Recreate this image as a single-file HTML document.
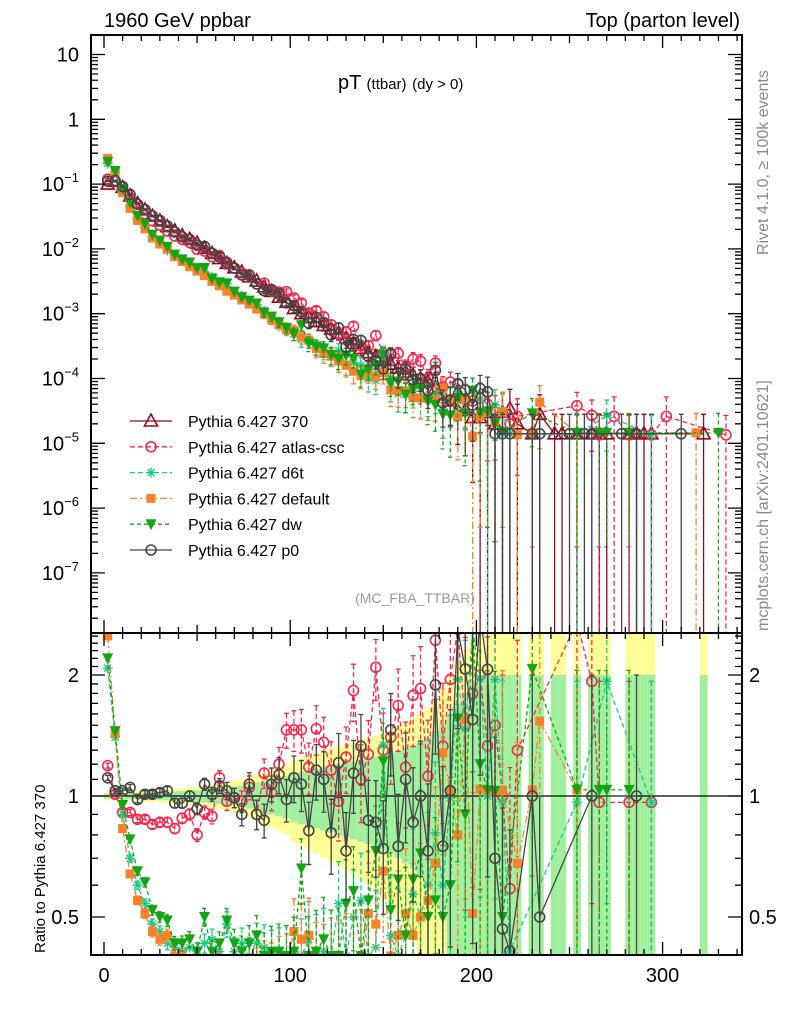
<!DOCTYPE html>
<html><head><meta charset="utf-8"><style>
html,body{margin:0;padding:0;background:#fff;width:786px;height:1024px;overflow:hidden;}
svg{display:block;font-family:"Liberation Sans",sans-serif;}
</style></head><body>
<svg id="chart" width="786" height="1024" viewBox="0 0 786 1024" xmlns="http://www.w3.org/2000/svg">
<defs>
<clipPath id="clipMain"><rect x="91" y="35" width="651" height="598"/></clipPath>
<clipPath id="clipRatio"><rect x="91" y="633" width="651" height="322"/></clipPath>
</defs>
<rect width="786" height="1024" fill="#fff"/>
<g id="ratioBands" clip-path="url(#clipRatio)"></g>
<g id="mainMarks" clip-path="url(#clipMain)"></g>
<g id="ratioMarks" clip-path="url(#clipRatio)"></g>
<g id="axes"></g>
<text x="104" y="27" font-size="20">1960 GeV ppbar</text>
<text x="740" y="27" font-size="20" text-anchor="end">Top (parton level)</text>
<text x="338" y="89" font-size="20">pT <tspan font-size="15">(ttbar)</tspan> <tspan font-size="15">(dy &gt; 0)</tspan></text>
<text x="415" y="603" font-size="14" fill="#999" text-anchor="middle">(MC_FBA_TTBAR)</text>
<text transform="translate(768,255) rotate(-90)" font-size="16" fill="#888">Rivet 4.1.0, ≥ 100k events</text>
<text transform="translate(768,631) rotate(-90)" font-size="16" fill="#888">mcplots.cern.ch [arXiv:2401.10621]</text>
<text transform="translate(45,953) rotate(-90)" font-size="15">Ratio to Pythia 6.427 370</text>
<g id="legend"></g>
</svg>
<script>
const binCenters=[2,6,10,14,18,22,26,30,34,38,42,46,50,54,58,62,66,70,74,78,82,86,90,94,98,102,106,110,114,118,122,126,130,134,138,142,146,150,154,158,162,166,170,174,178,182,186,190,194,198,202,206,210,214,218,222,226,230,234,238,242,246,250,254,258,262,266,270,274,278,282,286,290,294,298,302,306,310,314,318,322,326,330,334];
const ref370=[0.100,0.110,0.089,0.066,0.050,0.040,0.032,0.027,0.022,0.019,0.016,0.014,0.0123,0.0102,0.0085,0.0071,0.0060,0.0051,0.0044,0.0037,0.0032,0.0026,0.0022,0.0018,0.0015,0.0012,0.0010,0.00087,0.00076,0.00066,0.00058,0.00050,0.00042,0.00035,0.00029,0.00025,0.00022,0.00019,0.000166,0.000145,0.000126,0.000112,0.0001,0.000089,0.000071,0.000056,0.000045,0.000032,0.000032,0.000025,
2.5e-5,3e-5,2e-5,3e-5,3.4e-5,2e-5,0,1.4e-5,2.8e-5,0,1.4e-5,1.4e-5,0,1.4e-5,0,1.4e-5,1.4e-5,1.4e-5,0,0,1.4e-5,1.4e-5,1.4e-5,1.4e-5,0,0,0,0,0,0,1.4e-5,0,0,0];
const relErr=[0.015,0.015,0.016,0.017,0.018,0.02,0.021,0.022,0.024,0.026,0.028,0.03,0.033,0.036,0.04,0.044,0.05,0.055,0.06,0.07,0.08,0.09,0.1,0.11,0.12,0.14,0.15,0.16,0.17,0.18,0.19,0.2,0.21,0.22,0.23,0.24,0.25,0.27,0.28,0.3,0.32,0.34,0.37,0.4,0.45,0.5,0.6,0.7,0.8,0.9,
1,1,1,1,1,1,1,1,1,1,1,1,1,1,1,1,1,1,1,1,1,1,1,1,1,1,1,1,1,1,1,1,1,1];
const ratioAtlas=[1.19,1.01,0.91,0.91,0.875,0.875,0.85,0.86,0.86,0.83,0.88,0.90,0.80,0.91,0.89,1.11,0.97,0.99,0.97,1.05,0.90,1.14,1.02,1.20,1.46,1.46,1.46,1.18,1.47,1.36,1.16,0.97,1.25,1.83,1.10,1.27,2.09,1.3,1.4,1.68,1.18,1.78,1.85,1.12,2.44,1.33,1.95,2.6,1.5,1.8];
const ratioD6t=[2.08,1.40,0.90,0.70,0.60,0.54,0.48,0.46,0.43,0.42,0.41,0.42,0.40,0.43,0.44,0.41,0.48,0.41,0.43,0.40,0.43,0.42,0.40,0.40,0.40,0.41,0.40,0.44,0.40,0.41,0.40,0.54,0.40,0.50,0.55,0.40,0.42,1.34,0.45,0.40,0.45,0.57,0.5,0.6,0.81,0.60,0.99,1.95,1.47,2.6];
const ratioDefault=[2.5,1.43,0.83,0.64,0.55,0.51,0.46,0.44,0.45,0.40,0.40,0.38,0.37,0.38,0.37,0.38,0.37,0.38,0.37,0.38,0.37,0.38,0.37,0.38,0.38,0.46,0.44,0.45,0.38,0.37,0.38,0.37,0.38,0.37,0.38,0.51,0.48,0.65,0.4,0.45,0.51,0.45,0.5,0.55,0.68,1.28,1.03,0.8,1.55,0.51];
const ratioDw=[2.2,1.45,0.95,0.78,0.65,0.61,0.52,0.50,0.49,0.43,0.43,0.44,0.41,0.50,0.41,0.43,0.49,0.43,0.41,0.43,0.45,0.40,0.41,0.41,0.40,0.41,0.66,0.40,0.41,0.44,0.40,0.40,0.54,0.58,0.40,0.55,0.73,1.22,0.52,0.62,0.45,0.62,0.72,0.5,0.55,0.5,0.6,1.56,0.9,2.6];
const ratioP0=[1.11,1.03,1.03,1.05,0.98,1.01,1.01,1.02,1.03,0.96,0.96,1.0,0.93,1.07,1.01,1.06,1.03,0.99,0.90,1.07,0.90,0.87,1.07,1.13,0.98,1.11,1.07,0.82,1.16,1.10,0.81,1.21,0.73,1.14,1.33,0.87,0.86,0.74,1.46,0.75,1.10,0.86,1.0,0.73,1.89,0.75,1.03,2.6,2.07,1.55];
const tailAtlas=[5,4,3,3,2,2.6,0,0,0,0,0,0,0,3.8,0,2.7,1.35,0,2.6,0,1.35,0,0,1.35,0,2.6,0,0,0,0,0,0,0,1.35];
const tailD6t=[4.9,3,3.9,2.9,1.4,0,0,0,0,0,0,0,0,1.35,0,0,0,2.7,0,0,0,0,0,1.35,0,0,0,0,0,0,0,0,0,0];
const tailDefault=[2.6,3.1,2.06,3.1,0,1.36,0,1.45,4.3,0,0,0,0,1.45,0,0,0,0,0,0,0,0,0,0,0,0,0,0,0,1.45,0,0,0,0];
const tailDw=[3,3.1,2.06,1.5,0,0,0,2.9,0,0,0,0,0,1.45,0,0,1.45,1.45,0,0,1.45,0,0,0,0,0,0,0,0,0,0,0,1.45,0];
const tailP0=[7,6.2,1.4,1.4,1.4,0,0,1.4,1.4,0,0,0,1.4,0,1.4,1.4,0,0,0,1.4,0,1.4,0,0,0,0,0,1.4,0,0,0,0,0,0];
const legendLabels=["Pythia 6.427 370","Pythia 6.427 atlas-csc","Pythia 6.427 d6t","Pythia 6.427 default","Pythia 6.427 dw","Pythia 6.427 p0"];
const mainTickLabels=[["10",1],["1",0],["10","-1"],["10","-2"],["10","-3"],["10","-4"],["10","-5"],["10","-6"],["10","-7"]];
const xTickLabels=[0,100,200,300];
const ratioTickLabels=[0.5,1,2];

const NS="http://www.w3.org/2000/svg";
const X=x=>104+1.862*x;
const YM=v=>119.3-64.8*Math.log10(v);
const YR=r=>796-121*Math.log2(r);
const YMbot=634, YMtop=34, YRbot=956, YRtop=632;
const cl=(v,a,b)=>Math.max(a,Math.min(b,v));
function el(tag,attrs,parent){const e=document.createElementNS(NS,tag);for(const k in attrs)e.setAttribute(k,attrs[k]);parent.appendChild(e);return e;}
function build(ratio,tail){return binCenters.map((c,i)=>i<50?ref370[i]*ratio[i]:tail[i-50]*1e-5);}
const series=[
 {key:"370",vals:ref370,color:"#8b0a1e",dash:"",marker:"tri",isRef:true},
 {key:"atlas-csc",vals:build(ratioAtlas,tailAtlas),color:"#f0284f",dash:"5,3",marker:"circ"},
 {key:"d6t",vals:build(ratioD6t,tailD6t),color:"#1cc98c",dash:"5,3",marker:"star"},
 {key:"default",vals:build(ratioDefault,tailDefault),color:"#f7822a",dash:"7,3,2,3",marker:"sq"},
 {key:"dw",vals:build(ratioDw,tailDw),color:"#14a514",dash:"4,3",marker:"dtri"},
 {key:"p0",vals:build(ratioP0,tailP0),color:"#454545",dash:"",marker:"circ"}
];
function marker(type,x,y,color,parent,name){
 let m;
 if(type==="tri"){m=el("polygon",{points:`${x-6.5},${y+5} ${x+6.5},${y+5} ${x},${y-7}`,fill:"none",stroke:color,"stroke-width":1.6},parent);}
 else if(type==="circ"){m=el("circle",{cx:x,cy:y,r:5,fill:"none",stroke:color,"stroke-width":1.6},parent);}
 else if(type==="sq"){m=el("rect",{x:x-4.5,y:y-4.5,width:9,height:9,fill:color},parent);}
 else if(type==="dtri"){m=el("polygon",{points:`${x-5.5},${y-5} ${x+5.5},${y-5} ${x},${y+6}`,fill:color},parent);}
 else {m=el("path",{d:`M${x-5},${y}H${x+5}M${x},${y-5}V${y+5}M${x-3.5},${y-3.5}L${x+3.5},${y+3.5}M${x-3.5},${y+3.5}L${x+3.5},${y-3.5}`,stroke:color,"stroke-width":1.4,fill:"none"},parent);}
 
 
 return m;
}
const bandG=document.getElementById("ratioBands");
binCenters.forEach((c,i)=>{
 if(!(ref370[i]>0))return;
 const e=relErr[i];
 const x0=X(c-2),w=1.862*4;
 const yl=1.65*e;
 const yt=cl(YR(Math.min(1+yl,3)),YRtop,YRbot), yb=cl(YR(Math.max(1-yl,0.3)),YRtop,YRbot);
 const ry=el("rect",{x:x0,y:yt,width:w+0.3,height:yb-yt,fill:"#ffff99"},bandG);
 
 
 const gt=cl(YR(Math.min(1+e,3)),YRtop,YRbot), gb=cl(YR(Math.max(1-e,0.3)),YRtop,YRbot);
 const rg=el("rect",{x:x0,y:gt,width:w+0.3,height:gb-gt,fill:"#a0f0a0"},bandG);
 
 
});
const mainG=document.getElementById("mainMarks"), ratG=document.getElementById("ratioMarks");
const refLine=el("line",{x1:91,x2:742,y1:YR(1),y2:YR(1),stroke:"#000","stroke-width":1.3},ratG);


series.forEach(s=>{
 const gm=el("g",{},mainG);
 
 
 const gr=el("g",{},ratG);
 
 
 let pm=[],pr=[];
 binCenters.forEach((c,i)=>{
  const v=s.vals[i]; if(!(v>0))return;
  const x=X(c),y=YM(v);
  const r=ref370[i]>0?v/ref370[i]:0;
  let e=ref370[i]>0?Math.min(1,relErr[i]/Math.sqrt(Math.max(r,0.05))):1;
  if(s.isRef)e=relErr[i];
  const hi=cl(YM(v*(1+e)),YMtop,YMbot), lo=e>=0.999?YMbot:cl(YM(v*(1-e)),YMtop,YMbot);
  const eb=el("path",{d:`M${x},${hi}V${lo}M${x-2.5},${hi}H${x+2.5}M${x-2.5},${lo}H${x+2.5}`,stroke:s.color,"stroke-width":1.3,"stroke-dasharray":s.dash,fill:"none"},gm);
  
  
  pm.push([x,y]);
  if(!s.isRef&&r>0){
   const ry=cl(YR(r),YRtop-20,YRbot+20),rhi=cl(YR(r*(1+e)),YRtop,YRbot),rlo=e>=0.999?YRbot:cl(YR(r*(1-e)),YRtop,YRbot);
   const re=el("path",{d:`M${x},${rhi}V${rlo}M${x-2.5},${rhi}H${x+2.5}M${x-2.5},${rlo}H${x+2.5}`,stroke:s.color,"stroke-width":1.3,"stroke-dasharray":s.dash,fill:"none"},gr);
   
   
   pr.push([x,ry]);
  }
 });
 const lm=el("polyline",{points:pm.map(p=>p.join(",")).join(" "),fill:"none",stroke:s.color,"stroke-width":1.3,"stroke-dasharray":s.dash},gm);
 
 
 pm.forEach(p=>marker(s.marker,p[0],p[1],s.color,gm,'point-'+s.key));
 if(pr.length){
  const lr=el("polyline",{points:pr.map(p=>p.join(",")).join(" "),fill:"none",stroke:s.color,"stroke-width":1.3,"stroke-dasharray":s.dash},gr);
  
  
  pr.forEach(p=>marker(s.marker,p[0],p[1],s.color,gr,'ratio-point-'+s.key));
 }
});
const ax=document.getElementById("axes");
[[91,35,651,598],[91,633,651,322]].forEach((f,k)=>{
 const r=el("rect",{x:f[0],y:f[1],width:f[2],height:f[3],fill:"none",stroke:"#000","stroke-width":2},ax);
 
 
});
let tp="";
for(let v=0;v<=340;v+=10){
 const x=X(v); const L=v%100===0?13:(v%50===0?8:6);
 tp+=`M${x},35v${L}M${x},633v${-L}M${x},633v${L}M${x},955v${-L}`;
}
for(let d=-8;d<=1;d++){for(let m=1;m<10;m++){const v=m*Math.pow(10,d);const y=YM(v);if(y<36||y>632)continue;const L=m===1?14:7;tp+=`M91,${y}h${L}M742,${y}h${-L}`;}}
for(let r=0.4;r<=2.55;r+=0.1){const rr=Math.round(r*10)/10;const y=YR(rr);if(y<634||y>954)continue;const L=(rr===0.5||rr===1||rr===2)?14:7;tp+=`M91,${y}h${L}M742,${y}h${-L}`;}
const tk=el("path",{d:tp,stroke:"#000","stroke-width":1.3,fill:"none"},ax);


mainTickLabels.forEach((t,i)=>{
 const y=YM(Math.pow(10,1-i))+7;
 const tx=el("text",{x:79,y:y,"font-size":20,"text-anchor":"end"},ax);
 if(i<2){tx.textContent=t[0];}else{tx.textContent=t[0];const s=el("tspan",{"font-size":13,dy:-9},tx);s.textContent="−"+t[1].slice(1);}
 
 
});
ratioTickLabels.forEach(r=>{
 [[79,"end"],[749,"start"]].forEach(p=>{
  const tx=el("text",{x:p[0],y:YR(r)+7,"font-size":20,"text-anchor":p[1]},ax);
  tx.textContent=String(r);
  
  
 });
});
xTickLabels.forEach(v=>{
 const tx=el("text",{x:X(v),y:982,"font-size":20,"text-anchor":"middle"},ax);
 tx.textContent=String(v);
 
 
});
const lg=document.getElementById("legend");
series.forEach((s,i)=>{
 const y=421+25.8*i;
 const g=el("g",{},lg);
 
 
 el("line",{x1:130,x2:172,y1:y,y2:y,stroke:s.color,"stroke-width":1.3,"stroke-dasharray":s.dash},g);
 marker(s.marker,151,y,s.color,g,'legend-marker');
 const t=el("text",{x:188,y:y+6,"font-size":16},g);
 t.textContent=legendLabels[i];
 
 
});
</script>
</body></html>
